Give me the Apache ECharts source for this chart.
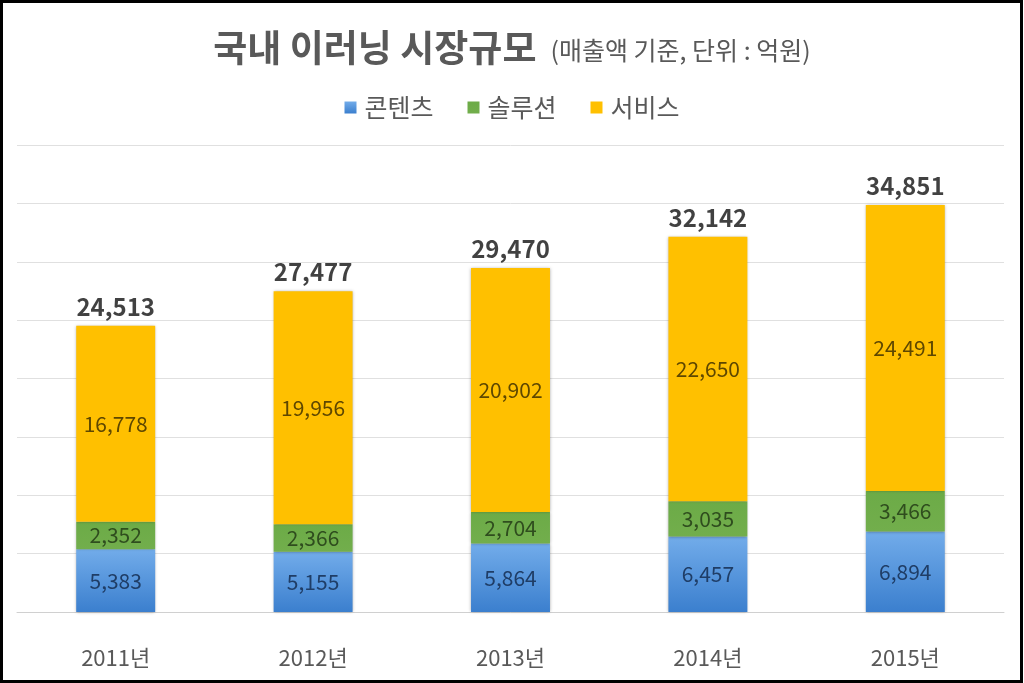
<!DOCTYPE html>
<html>
<head>
<meta charset="utf-8">
<script src="https://cdn.jsdelivr.net/npm/echarts@6/dist/echarts.min.js"></script>
<style>
html,body{margin:0;padding:0;background:#fff;}
#chart{width:1024px;height:683px;}
</style>
</head>
<body>
<div id="chart"></div>
<script>
const categories = ['2011년', '2012년', '2013년', '2014년', '2015년'];
const seriesNames = ['콘텐츠', '솔루션', '서비스'];
const contents = [5383, 5155, 5864, 6457, 6894];
const solution = [2352, 2366, 2704, 3035, 3466];
const service = [16778, 19956, 20902, 22650, 24491];
const totals = [24513, 27477, 29470, 32142, 34851];

const FONT = '"Noto Sans CJK KR", "Noto Sans", sans-serif';
const chart = echarts.init(document.getElementById('chart'), null, {renderer: 'canvas'});
const fmt = p => Number(p.value).toLocaleString('en-US');
const shadow = {shadowBlur: 3, shadowColor: 'rgba(0,0,0,0.35)'};

chart.setOption({
  animation: false,
  backgroundColor: '#fff',
  textStyle: {fontFamily: FONT},
  title: {
    left: 'center', top: 24,
    text: '{a|국내 이러닝 시장규모} {b|(매출액 기준, 단위 : 억원)}',
    textStyle: {
      rich: {
        a: {fontFamily: FONT, fontSize: 37, fontWeight: 'bold', color: '#595959', padding: [0, 10, 0, 0]},
        b: {fontFamily: FONT, fontSize: 25, fontWeight: 'normal', color: '#595959', padding: [6, 0, 0, 0]}
      }
    }
  },
  legend: {
    data: seriesNames,
    top: 90, left: 'center',
    itemWidth: 12, itemHeight: 12, itemGap: 34,
    icon: 'rect',
    textStyle: {fontFamily: FONT, fontSize: 25, color: '#595959', padding: [0, 0, 0, 3]}
  },
  grid: {left: 17, right: 20, top: 145, bottom: 71, containLabel: false},
  xAxis: {
    type: 'category',
    data: categories,
    axisTick: {show: false},
    axisLine: {lineStyle: {color: '#d0d0d0', width: 1}},
    axisLabel: {fontFamily: FONT, fontSize: 22, color: '#595959', margin: 35}
  },
  yAxis: {
    type: 'value', min: 0, max: 40000, interval: 5000,
    axisLabel: {show: false}, axisLine: {show: false}, axisTick: {show: false},
    splitLine: {lineStyle: {color: '#e0e0e0', width: 1}}
  },
  graphic: [{
    type: 'rect', z: 100, silent: true,
    shape: {x: 1.5, y: 1.5, width: 1020, height: 680},
    style: {fill: 'none', stroke: '#000', lineWidth: 3}
  }],
  series: [
    {
      name: seriesNames[0], type: 'bar', stack: 'total', barWidth: '40%',
      data: contents,
      itemStyle: Object.assign({
        color: new echarts.graphic.LinearGradient(0, 0, 0, 1, [
          {offset: 0, color: '#72acea'}, {offset: 1, color: '#3b7fce'}
        ])
      }, shadow),
      label: {show: true, position: 'inside', fontFamily: FONT, fontSize: 21, color: '#1f3d66', formatter: fmt}
    },
    {
      name: seriesNames[1], type: 'bar', stack: 'total',
      data: solution,
      itemStyle: Object.assign({
        color: new echarts.graphic.LinearGradient(0, 0, 0, 1, [
          {offset: 0, color: '#6cab47'}, {offset: 1, color: '#72ae4c'}
        ])
      }, shadow),
      label: {show: true, position: 'inside', fontFamily: FONT, fontSize: 21, color: '#2f4d1e', formatter: fmt}
    },
    {
      name: seriesNames[2], type: 'bar', stack: 'total',
      data: service,
      itemStyle: Object.assign({color: '#ffc000'}, shadow),
      label: {show: true, position: 'inside', fontFamily: FONT, fontSize: 21, color: '#5e4700', formatter: fmt}
    },
    {
      name: '합계', type: 'scatter', data: totals, symbolSize: 0, silent: true,
      label: {show: true, position: 'top', distance: 7, fontFamily: FONT, fontSize: 24, fontWeight: 'bold', color: '#111', formatter: fmt}
    }
  ]
});
</script>
</body>
</html>
